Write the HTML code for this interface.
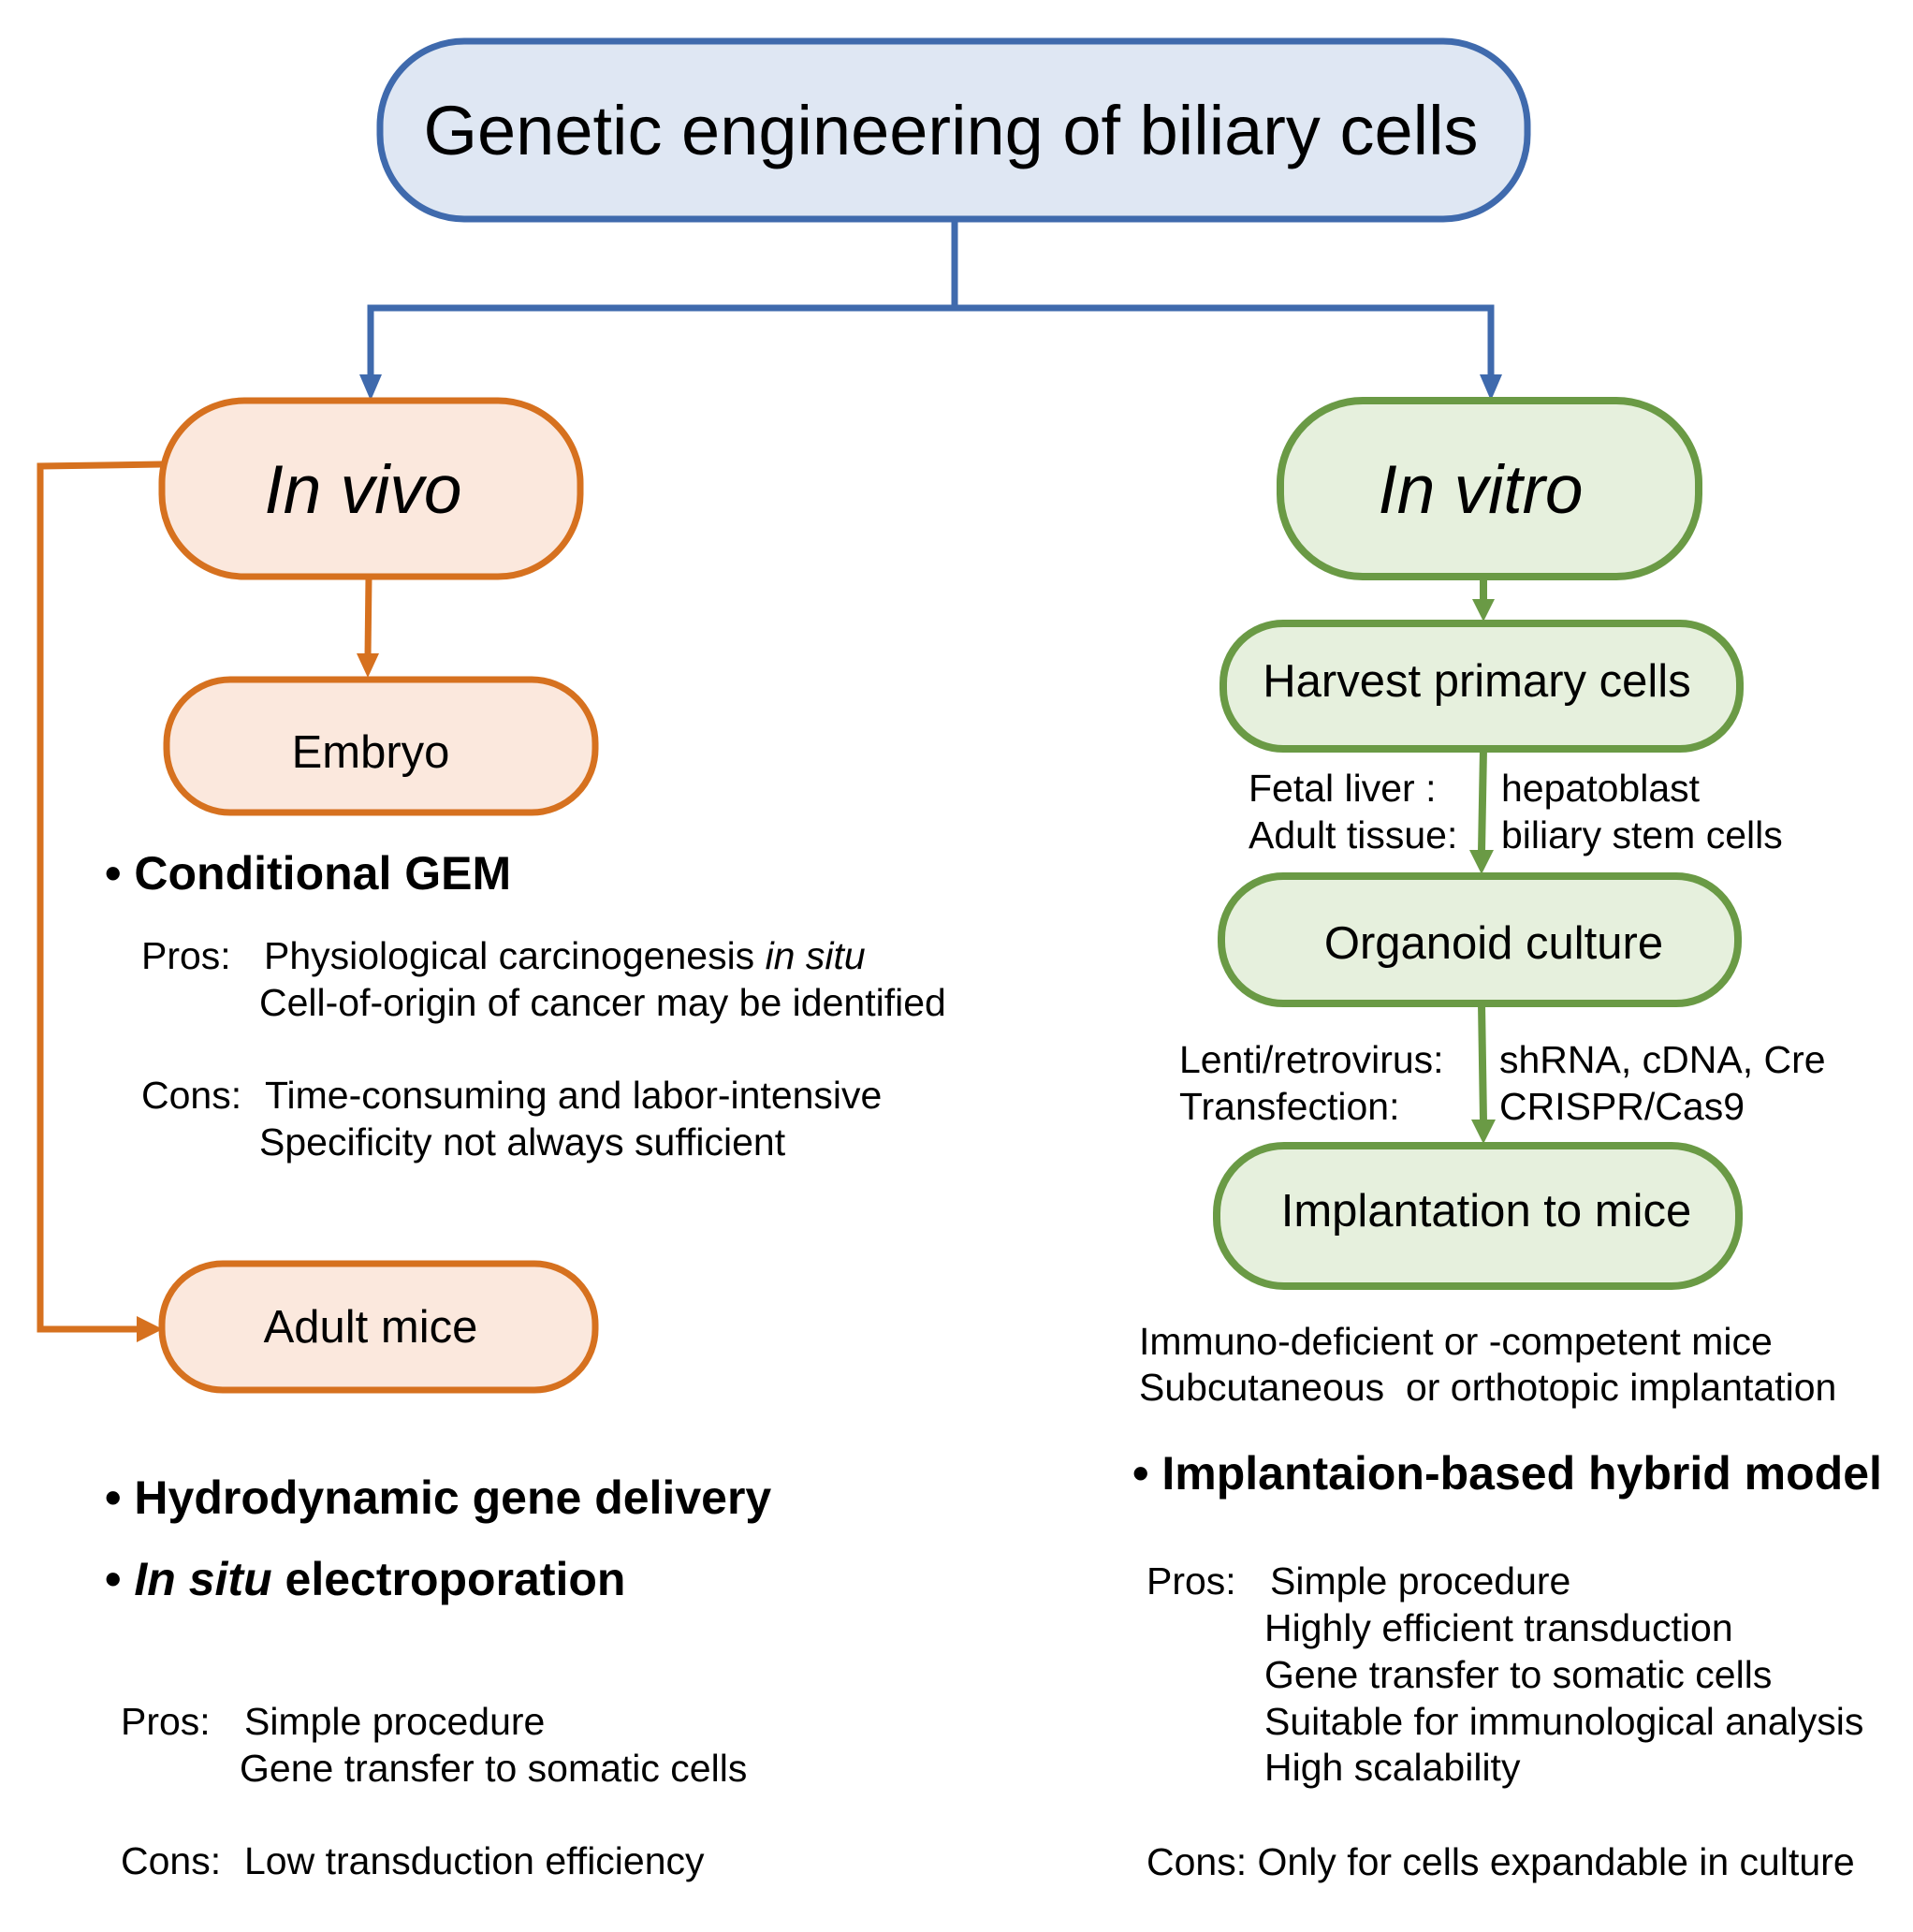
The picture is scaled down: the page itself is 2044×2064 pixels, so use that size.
<!DOCTYPE html>
<html><head><meta charset="utf-8"><style>
html,body{margin:0;padding:0;background:#fff;}
svg{display:block;}
text{font-family:"Liberation Sans",Arial,sans-serif;fill:#000;}
.b{font-size:41px;}
.bx{font-size:49px;}
.h{font-size:50px;font-weight:bold;}
</style></head><body>
<svg width="2044" height="2064" viewBox="0 0 2044 2064" xmlns="http://www.w3.org/2000/svg">
<rect x="406" y="44" width="1226" height="190" rx="90" fill="#dfe7f3" stroke="#3f6aad" stroke-width="7"/>
<text x="1016" y="165" text-anchor="middle" style="font-size:74px">Genetic engineering of biliary cells</text>
<polyline points="1020,234 1020,329 396,329 396,404" fill="none" stroke="#3f6aad" stroke-width="7"/>
<polyline points="1020,329 1593,329 1593,404" fill="none" stroke="#3f6aad" stroke-width="7"/>
<polygon points="384,400 408,400 396,428" fill="#3f6aad"/>
<polygon points="1581,400 1605,400 1593,428" fill="#3f6aad"/>
<rect x="173" y="428" width="447" height="188" rx="88" fill="#fbe8dd" stroke="#d6711f" stroke-width="7"/>
<text x="388" y="548" text-anchor="middle" style="font-size:73px;font-style:italic">In vivo</text>
<rect x="1368" y="428" width="447" height="188" rx="88" fill="#e6f0dd" stroke="#6a9a45" stroke-width="8"/>
<text x="1582" y="548" text-anchor="middle" style="font-size:73px;font-style:italic">In vitro</text>
<line x1="394" y1="616" x2="393" y2="702" stroke="#d6711f" stroke-width="7"/>
<polygon points="381,698 405,698 393,724" fill="#d6711f"/>
<rect x="178" y="726" width="458" height="142" rx="68" fill="#fbe8dd" stroke="#d6711f" stroke-width="7"/>
<text x="396" y="820" text-anchor="middle" class="bx">Embryo</text>
<polyline points="173,496 43,498 43,1420 150,1420" fill="none" stroke="#d6711f" stroke-width="7"/>
<polygon points="146,1406 174,1420 146,1434" fill="#d6711f"/>
<rect x="173" y="1350" width="463" height="135" rx="65" fill="#fbe8dd" stroke="#d6711f" stroke-width="7"/>
<text x="396" y="1434" text-anchor="middle" class="bx">Adult mice</text>
<line x1="1585" y1="618" x2="1585" y2="642" stroke="#6a9a45" stroke-width="8"/>
<polygon points="1573,640 1597,640 1585,664" fill="#6a9a45"/>
<rect x="1307" y="666" width="552" height="134" rx="64" fill="#e6f0dd" stroke="#6a9a45" stroke-width="8"/>
<text x="1578" y="744" text-anchor="middle" class="bx">Harvest primary cells</text>
<line x1="1585" y1="800" x2="1583" y2="910" stroke="#6a9a45" stroke-width="8"/>
<polygon points="1570,908 1596,908 1583,934" fill="#6a9a45"/>
<rect x="1305" y="936" width="552" height="136" rx="66" fill="#e6f0dd" stroke="#6a9a45" stroke-width="8"/>
<text x="1596" y="1024" text-anchor="middle" class="bx">Organoid culture</text>
<line x1="1583" y1="1072" x2="1585" y2="1198" stroke="#6a9a45" stroke-width="8"/>
<polygon points="1572,1196 1598,1196 1585,1222" fill="#6a9a45"/>
<rect x="1300" y="1224" width="558" height="150" rx="72" fill="#e6f0dd" stroke="#6a9a45" stroke-width="8"/>
<text x="1588" y="1310" text-anchor="middle" class="bx">Implantation to mice</text>
<text x="1334" y="856" class="b">Fetal liver :</text>
<text x="1334" y="906" class="b">Adult tissue:</text>
<text x="1604" y="856" class="b">hepatoblast</text>
<text x="1604" y="906" class="b">biliary stem cells</text>
<text x="1260" y="1146" class="b">Lenti/retrovirus:</text>
<text x="1260" y="1196" class="b">Transfection:</text>
<text x="1602" y="1146" class="b">shRNA, cDNA, Cre</text>
<text x="1602" y="1196" class="b">CRISPR/Cas9</text>
<text x="1217" y="1447" class="b">Immuno-deficient or -competent mice</text>
<text x="1217" y="1496" class="b" style="white-space:pre">Subcutaneous  or orthotopic implantation</text>
<text x="1210" y="1591" class="h">• Implantaion-based hybrid model</text>
<text x="1225" y="1703" class="b">Pros:</text>
<text x="1357" y="1703" class="b">Simple procedure</text>
<text x="1351" y="1753" class="b">Highly efficient transduction</text>
<text x="1351" y="1803" class="b">Gene transfer to somatic cells</text>
<text x="1351" y="1853" class="b">Suitable for immunological analysis</text>
<text x="1351" y="1902" class="b">High scalability</text>
<text x="1225" y="2003" class="b">Cons: Only for cells expandable in culture</text>
<text x="112" y="950" class="h">• Conditional GEM</text>
<text x="151" y="1035" class="b">Pros:</text>
<text x="282" y="1035" class="b">Physiological carcinogenesis <tspan font-style="italic">in situ</tspan></text>
<text x="277" y="1085" class="b">Cell-of-origin of cancer may be identified</text>
<text x="151" y="1184" class="b">Cons:</text>
<text x="283" y="1184" class="b">Time-consuming and labor-intensive</text>
<text x="277" y="1234" class="b">Specificity not always sufficient</text>
<text x="112" y="1617" class="h">• Hydrodynamic gene delivery</text>
<text x="112" y="1704" class="h">• <tspan font-style="italic">In situ</tspan> electroporation</text>
<text x="129" y="1853" class="b">Pros:</text>
<text x="261" y="1853" class="b">Simple procedure</text>
<text x="256" y="1903" class="b">Gene transfer to somatic cells</text>
<text x="129" y="2002" class="b">Cons:</text>
<text x="261" y="2002" class="b">Low transduction efficiency</text>
</svg>
</body></html>
